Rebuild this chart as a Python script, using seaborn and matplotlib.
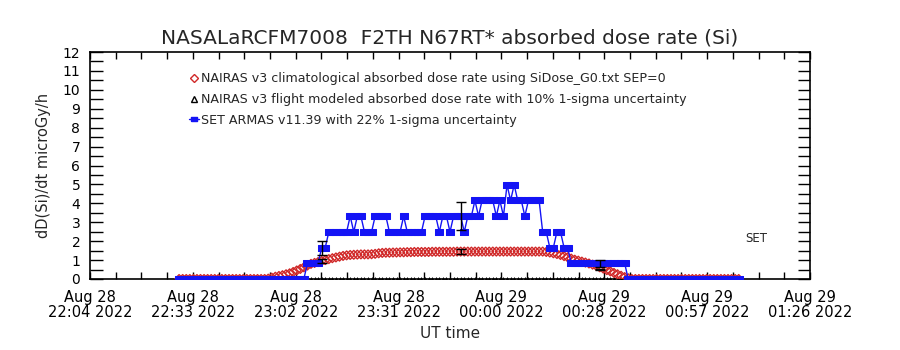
import numpy as np
import matplotlib
matplotlib.use("Agg")
import matplotlib.pyplot as plt
import seaborn as sns
from matplotlib.lines import Line2D
from matplotlib.ticker import MultipleLocator

# ---------------- data (time in minutes after 22:04 UT, 28 Aug 2022) ----------------
t_start, t_end = 25, 182          # first / last sample minute
L1, L2, L3, L4, L5, L6 = 0.83, 1.66, 2.49, 3.32, 4.15, 4.98

set_values = (
    [0.0] * 36 +                          # t 25-60
    [L1, L1, L1, L1] +                    # 61-64
    [L2, L2] +                            # 65-66
    [L3] * 6 +                            # 67-72
    [L4, L3, L4, L4, L3, L3, L3] +        # 73-79
    [L4, L4, L4, L4] +                    # 80-83
    [L3, L3, L3, L3, L4] +                # 84-88
    [L3, L3, L3, L3, L3] +                # 89-93
    [L4, L4, L4, L4, L3, L4, L4, L3] +    # 94-101
    [L4, L4, L4, L3, L4, L4] +            # 102-107
    [L5, L4, L5, L5, L5, L5, L4, L5, L4] +  # 108-116
    [L6, L5, L6, L5, L5, L4, L5, L5, L5, L5] +  # 117-126
    [L3, L3, L2, L2, L3, L3, L2, L2] +    # 127-134
    [L1] * 16 +                           # 135-150
    [0.0] * 32                            # 151-182
)

clim_values = (
    [0.0] * 25 +                                              # 25-49
    [0.02, 0.07, 0.12, 0.16, 0.20, 0.25, 0.30, 0.37, 0.45, 0.53,   # 50-59
     0.62, 0.71, 0.80, 0.85, 0.90, 0.95, 1.00, 1.05, 1.10, 1.14,   # 60-69
     1.18, 1.22, 1.25, 1.27, 1.28, 1.29, 1.30, 1.30, 1.30, 1.31,   # 70-79
     1.33, 1.36, 1.38, 1.39, 1.39, 1.40, 1.40, 1.41, 1.41, 1.42,   # 80-89
     1.42, 1.43, 1.43, 1.43, 1.43, 1.43, 1.44, 1.44, 1.44, 1.44,   # 90-99
     1.44, 1.44, 1.44, 1.45, 1.45, 1.45, 1.45, 1.45, 1.45, 1.45,   # 100-109
     1.45, 1.45, 1.45, 1.45, 1.45, 1.45, 1.45, 1.45, 1.45, 1.45,   # 110-119
     1.45, 1.45, 1.45, 1.45, 1.45, 1.45, 1.45, 1.45, 1.43, 1.40,   # 120-129
     1.36, 1.32, 1.27, 1.21, 1.15, 1.08, 1.02, 0.97, 0.92, 0.87,   # 130-139
     0.82, 0.76, 0.70, 0.62, 0.55, 0.47, 0.40, 0.32, 0.25, 0.17,   # 140-149
     0.10, 0.04] +                                             # 150-151
    [0.0] * 31                                                # 152-182
)

# flight-modelled points with 10% and SET points with 22% 1-sigma bars
err_times = [65, 104, 143]
flight_values = [0.97, 1.45, 0.50]
flight_err = [0.10, 0.15, 0.05]
set_err_values = [1.66, 3.32, 0.83]
set_err = [0.37, 0.73, 0.18]

xtick_labels = ["Aug 28\n22:04 2022", "Aug 28\n22:33 2022", "Aug 28\n23:02 2022",
                "Aug 28\n23:31 2022", "Aug 29\n00:00 2022", "Aug 29\n00:28 2022",
                "Aug 29\n00:57 2022", "Aug 29\n01:26 2022"]
x_span = 202  # minutes from 22:04 to 01:26
ytick_values = list(range(0, 13))

title = "NASALaRCFM7008  F2TH N67RT* absorbed dose rate (Si)"
legend_labels = [
    "NAIRAS v3 climatological absorbed dose rate using SiDose_G0.txt SEP=0",
    "NAIRAS v3 flight modeled absorbed dose rate with 10% 1-sigma uncertainty",
    "SET ARMAS v11.39 with 22% 1-sigma uncertainty",
]

# ---------------- plot ----------------
sns.set_style("ticks")
plt.rcParams["font.family"] = ["DejaVu Sans"]

times = np.arange(t_start, t_end + 1)
df = {"t": times, "set": np.array(set_values), "clim": np.array(clim_values)}

fig = plt.figure(figsize=(9, 3.5), dpi=100)
ax = fig.add_axes([0.1, 71 / 350, 0.8, 227 / 350])

BLUE = "#1414f5"
RED = "#d02828"
rect_marker = [(-1.4, -1.0), (1.4, -1.0), (1.4, 1.0), (-1.4, 1.0), (-1.4, -1.0)]

# baseline black triangles (flight model) where SET active
active = df["set"] > 0
sns.scatterplot(x=df["t"][active], y=np.zeros(active.sum()), marker="^", s=7,
                color="black", edgecolor="black", linewidth=0.5, ax=ax, zorder=2)

sns.scatterplot(x=df["t"], y=df["clim"], marker="D", s=20, facecolor="none",
                edgecolor=RED, linewidth=1.0, ax=ax, zorder=3)

sns.lineplot(x=df["t"], y=df["set"], color=BLUE, linewidth=1.0, marker=rect_marker,
             markersize=5.5, markeredgecolor=BLUE, markerfacecolor=BLUE, ax=ax, zorder=4)

ax.errorbar(err_times, flight_values, yerr=flight_err, fmt="none", ecolor="black",
            elinewidth=1, capsize=3.5, zorder=5)
ax.errorbar(err_times, set_err_values, yerr=set_err, fmt="none", ecolor="black",
            elinewidth=1, capsize=3.5, zorder=5)

ax.set_xlim(0, x_span)
ax.set_ylim(0, 12)
ax.set_xticks(np.linspace(0, x_span, len(xtick_labels)))
ax.set_xticklabels(xtick_labels, fontsize=10.5, linespacing=1.0)
ax.xaxis.set_minor_locator(MultipleLocator(x_span / 7 / 4))
ax.set_yticks(ytick_values)
ax.set_yticklabels([str(v) for v in ytick_values], fontsize=10)
ax.yaxis.set_minor_locator(MultipleLocator(0.5))

ax.tick_params(axis="x", which="both", direction="in", length=5, width=1,
               top=True, bottom=True, pad=8, colors="black")
ax.tick_params(axis="y", which="both", direction="in", length=9, width=1,
               left=True, right=True, pad=7, colors="black")
for s in ax.spines.values():
    s.set_linewidth(1.2)
    s.set_color("black")

ax.set_xlabel("UT time", fontsize=11, labelpad=4)
ax.set_ylabel("dD(Si)/dt microGy/h", fontsize=10.5, labelpad=8)
ax.set_title(title, fontsize=14.5, pad=6)

ax.text(0.91, 0.18, "SET", transform=ax.transAxes, fontsize=8.5, ha="left", va="center")

handles = [
    Line2D([], [], linestyle="none", marker="D", markersize=4, markerfacecolor="none",
           markeredgecolor=RED),
    Line2D([], [], linestyle="none", marker="^", markersize=4, markerfacecolor="none",
           markeredgecolor="black"),
    Line2D([], [], color=BLUE, marker=rect_marker, markersize=5, linewidth=1),
]
leg = ax.legend(handles, legend_labels, loc="upper left", bbox_to_anchor=(0.138, 0.91),
                frameon=False, fontsize=9.1, handlelength=0.8, handletextpad=0.15,
                labelspacing=0.6, borderpad=0, borderaxespad=0)

sns.despine(ax=ax, top=False, right=False)
fig.savefig("out.png", dpi=100, facecolor="white")
